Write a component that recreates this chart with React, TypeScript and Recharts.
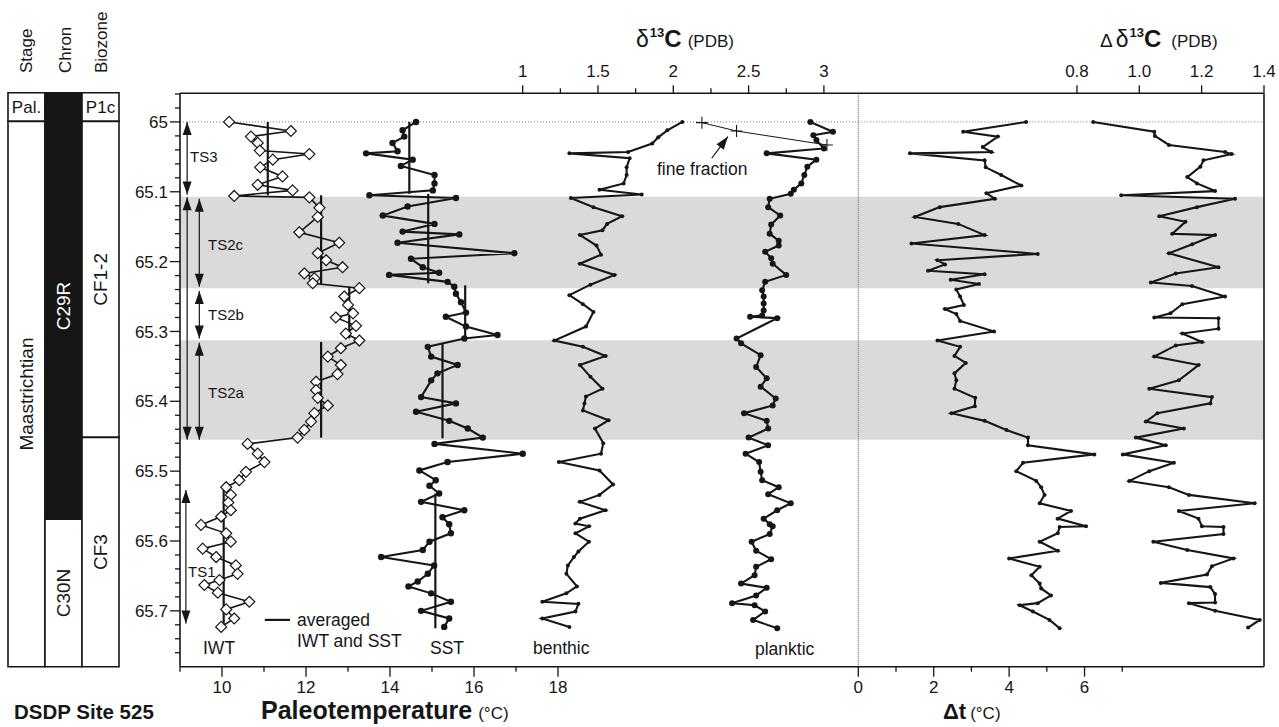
import React from 'react';
import { ComposedChart, Scatter, XAxis, YAxis, ReferenceArea, ReferenceLine } from 'recharts';

// ---------------- data (age in Ma, value) ----------------
const IWT: [number, number][] = [
  [65.000, 10.17], [65.013, 11.64], [65.021, 10.69], [65.030, 10.85], [65.041, 10.90], [65.046, 12.08],
  [65.054, 11.21], [65.065, 10.91], [65.078, 11.44], [65.090, 10.85], [65.098, 11.68], [65.106, 10.29],
  [65.108, 12.08], [65.123, 12.32], [65.136, 12.28], [65.158, 11.84], [65.173, 12.79], [65.188, 12.28],
  [65.198, 12.48], [65.208, 12.87], [65.217, 11.96], [65.224, 12.20], [65.231, 12.16], [65.238, 13.27],
  [65.250, 12.91], [65.262, 13.00], [65.274, 13.12], [65.280, 12.71], [65.292, 13.19], [65.303, 12.95],
  [65.313, 13.27], [65.324, 12.83], [65.336, 12.52], [65.348, 12.83], [65.361, 12.75], [65.372, 12.24],
  [65.384, 12.24], [65.395, 12.28], [65.406, 12.52], [65.417, 12.20], [65.429, 12.12], [65.441, 11.96],
  [65.452, 11.80], [65.461, 10.61], [65.475, 10.85], [65.487, 11.01], [65.501, 10.57], [65.513, 10.41],
  [65.523, 10.10], [65.534, 10.21], [65.545, 10.15], [65.556, 10.21], [65.565, 9.98], [65.577, 9.50],
  [65.589, 10.10], [65.601, 10.21], [65.611, 9.54], [65.623, 9.86], [65.635, 10.33], [65.647, 10.37],
  [65.656, 9.94], [65.663, 9.58], [65.674, 9.90], [65.687, 10.65], [65.698, 10.10], [65.711, 10.29],
  [65.723, 9.98],
];

const SST: [number, number][] = [
  [65.000, 14.62], [65.012, 14.30], [65.021, 14.34], [65.030, 14.06], [65.042, 14.18], [65.045, 13.43],
  [65.054, 14.54], [65.063, 14.26], [65.076, 15.06], [65.088, 15.06], [65.098, 15.02], [65.105, 13.51],
  [65.109, 15.57], [65.121, 14.42], [65.134, 13.83], [65.146, 15.06], [65.157, 14.30], [65.161, 15.65],
  [65.173, 14.18], [65.188, 16.96], [65.196, 14.50], [65.208, 14.78], [65.216, 15.17], [65.219, 13.98],
  [65.229, 15.37], [65.236, 15.53], [65.246, 15.57], [65.258, 15.69], [65.273, 15.81], [65.279, 15.33],
  [65.293, 15.81], [65.305, 16.56], [65.310, 15.77], [65.322, 14.90], [65.336, 14.98], [65.348, 15.61],
  [65.360, 15.13], [65.370, 14.98], [65.394, 14.74], [65.403, 15.57], [65.415, 14.62], [65.428, 15.41],
  [65.439, 15.85], [65.452, 16.21], [65.461, 15.06], [65.475, 17.16], [65.487, 15.37], [65.499, 14.70],
  [65.513, 15.09], [65.521, 14.94], [65.532, 15.17], [65.544, 14.74], [65.556, 15.77], [65.566, 15.25],
  [65.576, 15.41], [65.589, 15.45], [65.601, 14.94], [65.613, 14.78], [65.623, 13.79], [65.635, 15.05],
  [65.647, 14.90], [65.658, 14.66], [65.665, 14.44], [65.675, 14.98], [65.687, 15.45], [65.700, 14.74],
  [65.711, 15.41], [65.723, 15.29],
];

const BENTHIC: [number, number][] = [
  [65.000, 2.06], [65.012, 1.96], [65.022, 1.90], [65.031, 1.86], [65.043, 1.70], [65.045, 1.31],
  [65.052, 1.71], [65.065, 1.69], [65.076, 1.69], [65.088, 1.67], [65.097, 1.51], [65.104, 1.79],
  [65.109, 1.32], [65.122, 1.47], [65.135, 1.66], [65.146, 1.56], [65.155, 1.53], [65.162, 1.38],
  [65.177, 1.49], [65.190, 1.52], [65.203, 1.38], [65.219, 1.61], [65.233, 1.45], [65.248, 1.31],
  [65.261, 1.40], [65.272, 1.47], [65.293, 1.42], [65.313, 1.21], [65.322, 1.40], [65.335, 1.55],
  [65.348, 1.38], [65.365, 1.45], [65.382, 1.53], [65.393, 1.42], [65.403, 1.41], [65.413, 1.40],
  [65.427, 1.57], [65.439, 1.48], [65.460, 1.535], [65.475, 1.52], [65.487, 1.24], [65.499, 1.51],
  [65.519, 1.60], [65.534, 1.51], [65.544, 1.38], [65.556, 1.55], [65.568, 1.38], [65.575, 1.35],
  [65.579, 1.44], [65.589, 1.35], [65.601, 1.44], [65.615, 1.37], [65.623, 1.34], [65.635, 1.30],
  [65.647, 1.29], [65.665, 1.36], [65.675, 1.29], [65.687, 1.13], [65.690, 1.37], [65.701, 1.35],
  [65.711, 1.13], [65.723, 1.31],
];

const PLANKTIC: [number, number][] = [
  [65.000, 2.91], [65.014, 3.06], [65.019, 2.93], [65.026, 2.95], [65.038, 3.00], [65.045, 2.62],
  [65.054, 2.95], [65.064, 2.89], [65.076, 2.87], [65.088, 2.85], [65.097, 2.80], [65.103, 2.78],
  [65.110, 2.64], [65.122, 2.63], [65.134, 2.71], [65.147, 2.65], [65.160, 2.64], [65.170, 2.70],
  [65.177, 2.70], [65.186, 2.61], [65.195, 2.65], [65.203, 2.66], [65.219, 2.75], [65.229, 2.61],
  [65.241, 2.59], [65.250, 2.60], [65.260, 2.60], [65.270, 2.60], [65.277, 2.59], [65.279, 2.51],
  [65.281, 2.69], [65.310, 2.42], [65.317, 2.45], [65.334, 2.58], [65.351, 2.55], [65.367, 2.62],
  [65.379, 2.58], [65.396, 2.68], [65.406, 2.66], [65.417, 2.47], [65.428, 2.62], [65.439, 2.63],
  [65.452, 2.50], [65.463, 2.63], [65.475, 2.48], [65.487, 2.57], [65.501, 2.58], [65.513, 2.59],
  [65.523, 2.70], [65.533, 2.63], [65.546, 2.78], [65.556, 2.69], [65.568, 2.60], [65.576, 2.64],
  [65.579, 2.66], [65.590, 2.64], [65.601, 2.52], [65.614, 2.55], [65.626, 2.65], [65.637, 2.55],
  [65.649, 2.54], [65.661, 2.45], [65.667, 2.62], [65.678, 2.55], [65.689, 2.39], [65.692, 2.54],
  [65.701, 2.61], [65.713, 2.53], [65.725, 2.69],
];

const FINE_FRACTION: [number, number][] = [[65.001, 2.19], [65.013, 2.42], [65.033, 3.02]];

const DELTA_T: [number, number][] = [
  [65.000, 4.45], [65.014, 2.78], [65.021, 3.70], [65.036, 3.30], [65.043, 3.53], [65.045, 1.37],
  [65.055, 3.35], [65.065, 3.38], [65.076, 3.79], [65.091, 4.32], [65.102, 3.40], [65.110, 3.62],
  [65.122, 2.16], [65.136, 1.50], [65.146, 2.65], [65.162, 3.35], [65.174, 1.41], [65.189, 4.76],
  [65.198, 2.10], [65.204, 2.30], [65.213, 1.85], [65.218, 3.35], [65.226, 2.45], [65.232, 3.20],
  [65.240, 2.60], [65.250, 2.70], [65.262, 2.80], [65.268, 2.30], [65.275, 2.60], [65.285, 2.70],
  [65.300, 3.60], [65.313, 2.10], [65.322, 2.70], [65.335, 2.55], [65.345, 2.85], [65.360, 2.55],
  [65.370, 2.60], [65.382, 2.55], [65.395, 3.10], [65.407, 3.09], [65.417, 2.47], [65.428, 3.35],
  [65.441, 3.93], [65.452, 4.50], [65.463, 4.50], [65.476, 6.26], [65.488, 4.37], [65.500, 4.19],
  [65.514, 4.72], [65.523, 4.85], [65.534, 4.94], [65.546, 4.81], [65.557, 5.64], [65.568, 5.29],
  [65.579, 6.04], [65.580, 5.34], [65.589, 5.29], [65.601, 4.81], [65.614, 5.29], [65.625, 4.00],
  [65.637, 4.81], [65.649, 4.59], [65.661, 4.81], [65.668, 4.85], [65.678, 5.11], [65.689, 4.76],
  [65.692, 4.28], [65.701, 4.63], [65.713, 5.07], [65.725, 5.34],
];

const DELTA_D13C: [number, number][] = [
  [65.000, 0.852], [65.014, 1.048], [65.020, 1.050], [65.033, 1.095], [65.043, 1.275], [65.046, 1.296],
  [65.055, 1.206], [65.064, 1.196], [65.079, 1.154], [65.088, 1.185], [65.099, 1.243], [65.105, 0.942],
  [65.110, 1.307], [65.122, 1.185], [65.135, 1.064], [65.143, 1.148], [65.160, 1.106], [65.162, 1.243],
  [65.175, 1.170], [65.188, 1.095], [65.208, 1.254], [65.217, 1.117], [65.230, 1.037], [65.235, 1.169],
  [65.250, 1.275], [65.261, 1.138], [65.274, 1.100], [65.280, 1.048], [65.281, 1.254], [65.296, 1.254],
  [65.303, 1.138], [65.315, 1.201], [65.320, 1.117], [65.336, 1.048], [65.348, 1.190], [65.370, 1.127],
  [65.382, 1.032], [65.394, 1.233], [65.403, 1.228], [65.417, 1.058], [65.429, 1.021], [65.439, 1.143],
  [65.452, 0.989], [65.463, 1.085], [65.476, 0.947], [65.488, 1.111], [65.500, 1.032], [65.514, 0.968],
  [65.523, 1.095], [65.534, 1.159], [65.546, 1.370], [65.557, 1.127], [65.568, 1.190], [65.579, 1.201],
  [65.580, 1.270], [65.590, 1.270], [65.601, 1.045], [65.613, 1.154], [65.625, 1.302], [65.636, 1.233],
  [65.648, 1.217], [65.660, 1.069], [65.666, 1.228], [65.676, 1.243], [65.688, 1.243], [65.689, 1.159],
  [65.700, 1.243], [65.713, 1.386], [65.724, 1.349],
];

// averaged temperature per interval: [temp, age from, age to]
const IWT_AVG: [number, number, number][] = [
  [11.09, 65.0, 65.105], [12.36, 65.105, 65.232], [13.03, 65.236, 65.31], [12.36, 65.315, 65.452], [10.04, 65.525, 65.723],
];
const SST_AVG: [number, number, number][] = [
  [14.46, 65.0, 65.103], [14.91, 65.103, 65.231], [15.79, 65.234, 65.3125], [15.25, 65.317, 65.453], [15.08, 65.532, 65.725],
];

// temperature-stage arrows: [temp position, age from, age to]
const TS_ARROWS: [number, number, number][] = [
  [9.17, 65.0, 65.104], [9.17, 65.108, 65.455], [9.46, 65.11, 65.236], [9.46, 65.242, 65.31], [9.46, 65.316, 65.455], [9.14, 65.527, 65.718],
];
const TS_LABELS: [string, number, number][] = [
  ['TS3', 190, 162], ['TS2c', 208, 250], ['TS2b', 208, 320], ['TS2a', 208, 398], ['TS1', 188, 577],
];

const SHADED: [number, number][] = [[65.107, 65.238], [65.3125, 65.455]];

// stratigraphic column: [column, from, to, label, dark]
const STRAT: [number, number, number, string, boolean][] = [
  [0, 64.959, 65.0, 'Pal.', false], [0, 65.0, 65.78, 'Maastrichtian', false],
  [1, 64.959, 65.569, 'C29R', true], [1, 65.569, 65.78, 'C30N', false],
  [2, 64.959, 65.0, 'P1c', false], [2, 65.0, 65.452, 'CF1-2', false], [2, 65.452, 65.78, 'CF3', false],
];
const STRAT_HEADERS: [string, number][] = [['Stage', 32], ['Chron', 71], ['Biozone', 107]];

// axes
const AGE_DOMAIN: [number, number] = [64.959, 65.78];
const AGE_LABELS = [65, 65.1, 65.2, 65.3, 65.4, 65.5, 65.6, 65.7];
const AGE_TICKS: number[] = [];
for (let i = 0; i <= 40; i++) AGE_TICKS.push(+(64.96 + i * 0.02).toFixed(2));
const TEMP_TICKS = [9, 10, 11, 12, 13, 14, 15, 16, 17, 18];
const TEMP_LABELS = [10, 12, 14, 16, 18];
const D13C_TICKS = [1, 1.25, 1.5, 1.75, 2, 2.25, 2.5, 2.75, 3];
const D13C_LABELS = [1, 1.5, 2, 2.5, 3];
const DT_TICKS = [0, 1, 2, 3, 4, 5, 6, 7];
const DT_LABELS = [0, 2, 4, 6];
const DD_TICKS = [0.8, 1.0, 1.2, 1.4];
const DD_LABELS = [0.8, 1.0, 1.2, 1.4];

const INK = '#161616';
const SHADE = '#dadada';
const FONT = '"Liberation Sans", Arial, Helvetica, sans-serif';

const toPts = (arr: [number, number][]) => arr.map(([age, v]) => ({ x: v, y: age }));

const isIn = (list: number[], v: number) => list.some((l) => Math.abs(l - v) < 1e-6);

function makeTick(orient: 'left' | 'top' | 'bottom', labels: number[], fmt: (v: number) => string, majorLen: number) {
  return (props: any) => {
    const { x, y, payload } = props;
    const v = payload.value as number;
    const major = isIn(labels, v);
    const len = major ? majorLen : 5;
    if (orient === 'left') {
      return (
        <g>
          <line x1={x} x2={x - len} y1={y} y2={y} stroke={INK} strokeWidth={1.3} />
          {major && (
            <text x={x - 12} y={y} dy="0.36em" textAnchor="end" fontSize={17} fill={INK}>{fmt(v)}</text>
          )}
        </g>
      );
    }
    if (orient === 'top') {
      return (
        <g>
          <line x1={x} x2={x} y1={y} y2={y - len} stroke={INK} strokeWidth={1.3} />
          {major && (
            <text x={x} y={y - 16} textAnchor="middle" fontSize={17} fill={INK}>{fmt(v)}</text>
          )}
        </g>
      );
    }
    return (
      <g>
        <line x1={x} x2={x} y1={y} y2={y + len} stroke={INK} strokeWidth={1.3} />
        {major && (
          <text x={x} y={y + 26} textAnchor="middle" fontSize={17} fill={INK}>{fmt(v)}</text>
        )}
      </g>
    );
  };
}

const arrowShape = (both: boolean) => (p: any) => {
  const { x1, y1, x2, y2 } = p;
  const L = 13;
  const W = 4.5;
  const dx = x2 - x1;
  const dy = y2 - y1;
  const len = Math.hypot(dx, dy) || 1;
  const ux = dx / len;
  const uy = dy / len;
  const head = (tx: number, ty: number, sx: number, sy: number) => {
    const bx = tx - sx * L;
    const by = ty - sy * L;
    return `M${tx},${ty}L${bx - sy * W},${by + sx * W}L${bx + sy * W},${by - sx * W}Z`;
  };
  return (
    <g>
      <line x1={x1} y1={y1} x2={x2} y2={y2} stroke={INK} strokeWidth={1.2} />
      <path d={head(x2, y2, ux, uy)} fill={INK} />
      {both && <path d={head(x1, y1, -ux, -uy)} fill={INK} />}
    </g>
  );
};

const dotShape = (r: number) => (p: any) => <circle cx={p.cx} cy={p.cy} r={r} fill={INK} />;
const diamondShape = (p: any) => {
  const s = 5.5;
  return (
    <path
      d={`M${p.cx},${p.cy - s}L${p.cx + s},${p.cy}L${p.cx},${p.cy + s}L${p.cx - s},${p.cy}Z`}
      fill="#fff"
      stroke={INK}
      strokeWidth={1.2}
    />
  );
};
const plusShape = (p: any) => (
  <path d={`M${p.cx - 6},${p.cy}H${p.cx + 6}M${p.cx},${p.cy - 6}V${p.cy + 6}`} stroke={INK} strokeWidth={1.1} />
);

const axisLine = { stroke: INK, strokeWidth: 1.6 };

function TableChart() {
  return (
    <ComposedChart width={130} height={727} margin={{ top: 92.7, right: 11, bottom: 60.3, left: 8 }}>
      <XAxis xAxisId="c" type="number" dataKey="x" domain={[0, 3]} hide allowDataOverflow />
      <YAxis yAxisId="a" type="number" dataKey="y" domain={AGE_DOMAIN} reversed hide allowDataOverflow />
      {STRAT.map(([col, a, b, label, dark]) => {
        const vertical = label.length > 3 && label !== 'Pal.';
        return (
          <ReferenceArea
            key={label}
            xAxisId="c"
            yAxisId="a"
            x1={col}
            x2={col + 1}
            y1={a}
            y2={b}
            fill={dark ? INK : '#fff'}
            fillOpacity={1}
            stroke={INK}
            strokeWidth={1.6}
            ifOverflow="visible"
            label={{
              value: label,
              position: 'center',
              angle: vertical || label === 'CF3' ? -90 : 0,
              fill: dark ? '#fff' : INK,
              fontSize: vertical || label === 'CF3' ? 19 : 17,
            }}
          />
        );
      })}
    </ComposedChart>
  );
}

function LeftChart() {
  return (
    <ComposedChart width={870} height={727} margin={{ top: 63.3, right: 11.7, bottom: 30.3, left: 120 }}>
      <YAxis
        yAxisId="age"
        dataKey="y"
        type="number"
        domain={AGE_DOMAIN}
        reversed
        allowDataOverflow
        ticks={AGE_TICKS}
        interval={0}
        tickSize={0}
        tickMargin={0}
        tickLine={false}
        width={60}
        axisLine={axisLine}
        tick={makeTick('left', AGE_LABELS, (v) => String(Number(v.toFixed(1))), 10)}
      />
      <XAxis
        xAxisId="temp"
        dataKey="x"
        type="number"
        orientation="bottom"
        domain={[9, 25.15]}
        allowDataOverflow
        ticks={TEMP_TICKS}
        interval={0}
        tickSize={0}
        tickMargin={0}
        tickLine={false}
        height={30}
        axisLine={axisLine}
        tick={makeTick('bottom', TEMP_LABELS, (v) => String(v), 10)}
      />
      <XAxis
        xAxisId="d13c"
        dataKey="x"
        type="number"
        orientation="top"
        domain={[-1.2756, 3.2284]}
        allowDataOverflow
        ticks={D13C_TICKS}
        interval={0}
        tickSize={0}
        tickMargin={0}
        tickLine={false}
        height={30}
        axisLine={axisLine}
        tick={makeTick('top', D13C_LABELS, (v) => String(v), 8)}
      />
      {SHADED.map(([a, b]) => (
        <ReferenceArea key={a} xAxisId="temp" yAxisId="age" y1={a} y2={b} fill={SHADE} fillOpacity={1} stroke="none" />
      ))}
      <ReferenceLine xAxisId="temp" yAxisId="age" y={65} stroke="#777" strokeDasharray="1 2" strokeWidth={1} />
      <Scatter
        xAxisId="temp"
        yAxisId="age"
        data={toPts(IWT)}
        line={{ stroke: INK, strokeWidth: 1.6 }}
        lineType="joint"
        shape={diamondShape}
        isAnimationActive={false}
      />
      <Scatter
        xAxisId="temp"
        yAxisId="age"
        data={toPts(SST)}
        line={{ stroke: INK, strokeWidth: 2.1 }}
        lineType="joint"
        shape={dotShape(3.2)}
        isAnimationActive={false}
      />
      <Scatter
        xAxisId="d13c"
        yAxisId="age"
        data={toPts(BENTHIC)}
        line={{ stroke: INK, strokeWidth: 2.1 }}
        lineType="joint"
        shape={dotShape(2)}
        isAnimationActive={false}
      />
      <Scatter
        xAxisId="d13c"
        yAxisId="age"
        data={toPts(PLANKTIC)}
        line={{ stroke: INK, strokeWidth: 2.1 }}
        lineType="joint"
        shape={dotShape(3)}
        isAnimationActive={false}
      />
      <Scatter
        xAxisId="d13c"
        yAxisId="age"
        data={toPts(FINE_FRACTION)}
        line={{ stroke: INK, strokeWidth: 1 }}
        lineType="joint"
        shape={plusShape}
        isAnimationActive={false}
      />
      {IWT_AVG.concat(SST_AVG).map(([t, a, b]) => (
        <ReferenceLine
          key={`${t}-${a}`}
          xAxisId="temp"
          yAxisId="age"
          segment={[{ x: t, y: a }, { x: t, y: b }]}
          stroke={INK}
          strokeWidth={2.2}
        />
      ))}
      <ReferenceLine
        xAxisId="temp"
        yAxisId="age"
        segment={[{ x: 11.02, y: 65.713 }, { x: 11.62, y: 65.713 }]}
        stroke={INK}
        strokeWidth={2.2}
      />
      {TS_ARROWS.map(([t, a, b]) => (
        <ReferenceLine
          key={`ts-${t}-${a}`}
          xAxisId="temp"
          yAxisId="age"
          segment={[{ x: t, y: a }, { x: t, y: b }]}
          shape={arrowShape(true)}
        />
      ))}
      <ReferenceLine
        xAxisId="d13c"
        yAxisId="age"
        segment={[{ x: 2.255, y: 65.052 }, { x: 2.363, y: 65.021 }]}
        shape={arrowShape(false)}
      />
    </ComposedChart>
  );
}

function RightChart() {
  return (
    <ComposedChart width={429} height={727} margin={{ top: 63.3, right: 15, bottom: 30.3, left: 8.3 }}>
      <YAxis yAxisId="age" dataKey="y" type="number" domain={AGE_DOMAIN} reversed allowDataOverflow hide />
      <XAxis
        xAxisId="dt"
        dataKey="x"
        type="number"
        orientation="bottom"
        domain={[0, 10.76]}
        allowDataOverflow
        ticks={DT_TICKS}
        interval={0}
        tickSize={0}
        tickMargin={0}
        tickLine={false}
        height={30}
        axisLine={axisLine}
        tick={makeTick('bottom', DT_LABELS, (v) => String(v), 10)}
      />
      <XAxis
        xAxisId="dd"
        dataKey="x"
        type="number"
        orientation="top"
        domain={[0.0986, 1.4]}
        allowDataOverflow
        ticks={DD_TICKS}
        interval={0}
        tickSize={0}
        tickMargin={0}
        tickLine={false}
        height={30}
        axisLine={axisLine}
        tick={makeTick('top', DD_LABELS, (v) => v.toFixed(1), 8)}
      />
      {SHADED.map(([a, b]) => (
        <ReferenceArea key={a} xAxisId="dt" yAxisId="age" y1={a} y2={b} fill={SHADE} fillOpacity={1} stroke="none" />
      ))}
      <ReferenceLine xAxisId="dt" yAxisId="age" y={65} stroke="#777" strokeDasharray="1 2" strokeWidth={1} />
      <ReferenceLine xAxisId="dt" yAxisId="age" x={0} stroke="#555" strokeDasharray="1 1" strokeWidth={1} />
      <ReferenceLine xAxisId="dd" yAxisId="age" x={1.4} stroke={INK} strokeWidth={1.6} />
      <Scatter
        xAxisId="dt"
        yAxisId="age"
        data={toPts(DELTA_T)}
        line={{ stroke: INK, strokeWidth: 2.1 }}
        lineType="joint"
        shape={dotShape(2)}
        isAnimationActive={false}
      />
      <Scatter
        xAxisId="dd"
        yAxisId="age"
        data={toPts(DELTA_D13C)}
        line={{ stroke: INK, strokeWidth: 2.1 }}
        lineType="joint"
        shape={dotShape(2)}
        isAnimationActive={false}
      />
    </ComposedChart>
  );
}

function Overlay() {
  const t = { fill: INK } as const;
  return (
    <svg width={1279} height={727} style={{ position: 'absolute', left: 0, top: 0, pointerEvents: 'none' }}>
      {STRAT_HEADERS.map(([h, x]) => (
        <text key={h} transform={`translate(${x},73) rotate(-90)`} fontSize={17} {...t}>{h}</text>
      ))}
      <text x={14} y={719} fontSize={20.5} fontWeight="bold" {...t}>DSDP Site 525</text>
      <text x={261} y={719} {...t}>
        <tspan fontSize={25} fontWeight="bold">Paleotemperature</tspan>
        <tspan fontSize={17} dx={6}>(°C)</tspan>
      </text>
      <text x={943} y={719} {...t}>
        <tspan fontSize={22} fontWeight="bold">Δt</tspan>
        <tspan fontSize={17} dx={4}>(°C)</tspan>
      </text>
      <text x={636} y={47} {...t}>
        <tspan fontSize={23}>δ</tspan>
        <tspan fontSize={13} fontWeight="bold" dy={-10} dx={1}>13</tspan>
        <tspan fontSize={24} fontWeight="bold" dy={10}>C</tspan>
        <tspan fontSize={17} dx={6}>(PDB)</tspan>
      </text>
      <text x={1100} y={47} {...t}>
        <tspan fontSize={19}>Δ</tspan>
        <tspan fontSize={23} dx={3}>δ</tspan>
        <tspan fontSize={13} fontWeight="bold" dy={-10} dx={1}>13</tspan>
        <tspan fontSize={24} fontWeight="bold" dy={10}>C</tspan>
        <tspan fontSize={17} dx={10}>(PDB)</tspan>
      </text>
      {TS_LABELS.map(([s, x, y]) => (
        <text key={s} x={x} y={y} fontSize={15} {...t}>{s}</text>
      ))}
      <text x={203} y={654} fontSize={17.5} {...t}>IWT</text>
      <text x={297} y={626} fontSize={17.5} {...t}>averaged</text>
      <text x={297} y={647} fontSize={17.5} {...t}>IWT and SST</text>
      <text x={430} y={654} fontSize={17.5} {...t}>SST</text>
      <text x={533} y={654} fontSize={17.5} {...t}>benthic</text>
      <text x={755} y={655} fontSize={17.5} {...t}>planktic</text>
      <text x={657} y={175} fontSize={17.5} {...t}>fine fraction</text>
    </svg>
  );
}

export default function App() {
  return (
    <div style={{ position: 'relative', width: 1279, height: 727, background: '#fff', fontFamily: FONT, overflow: 'hidden' }}>
      <style>{'body{margin:0}'}</style>
      <div style={{ position: 'absolute', left: 0, top: 0 }}>
        <TableChart />
      </div>
      <div style={{ position: 'absolute', left: 0, top: 0 }}>
        <LeftChart />
      </div>
      <div style={{ position: 'absolute', left: 850, top: 0 }}>
        <RightChart />
      </div>
      <Overlay />
    </div>
  );
}
